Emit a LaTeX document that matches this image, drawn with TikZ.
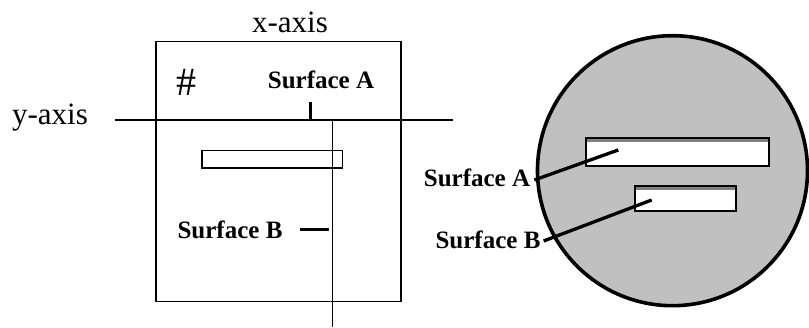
\documentclass[tikz,border=0pt]{standalone}
\usepackage{fontspec}
\setmainfont{Liberation Serif}
\begin{document}
\begin{tikzpicture}[x=1pt,y=-1pt,
  axislbl/.style={font=\fontsize{31}{31}\selectfont, inner sep=0pt},
  surflbl/.style={font=\fontsize{25}{25}\selectfont\bfseries, inner sep=0pt},
  thinln/.style={line width=1.6pt},
  thickln/.style={line width=3.3pt},
  slab/.style={draw=black, line width=2pt, fill=white}
]
\useasboundingbox (0,0) rectangle (809,328);
% left diagram
\draw[thinln] (156,41.7) rectangle (400.7,301.7);
\coordinate (yl) at (115,120);
\coordinate (yr) at (453,120);
\coordinate (vt) at (332.3,120);
\coordinate (vb) at (332.3,326.7);
\draw[thinln] (yl) -- (yr);
\draw[thinln] (vt) -- (vb);
\draw[thinln] (201.7,150.7) rectangle (342.3,168.3);
\node[axislbl] (xax) at (290,22) {x-axis};
\node[axislbl] (yax) at (50,118) {y-axis};
\node[font=\fontsize{40}{40}\selectfont, inner sep=0pt] (hash) at (186,82) {\#};
\node[surflbl] (sA) at (321,80) {Surface A};
\node[surflbl] (sB) at (230,230) {Surface B};
\coordinate (tA1) at (310.7,101.7);
\coordinate (tA2) at (310.7,120);
\draw[line width=3pt] (tA1) -- (tA2);
\coordinate (tB1) at (300,230);
\coordinate (tB2) at (329.3,230);
\draw[line width=3pt] (tB1) -- (tB2);
% right diagram
\draw[line width=3.6pt, fill={rgb,255:red,192;green,192;blue,192}] (672.5,170.7) circle (135);
\draw[slab] (586.2,137.8) rectangle (768.8,166.2);
\fill[gray] (587.2,138.8) rectangle (767.8,141.8);
\draw[slab] (634.5,186.5) rectangle (736.2,211.2);
\fill[gray] (635.5,187.5) rectangle (735.2,190.5);
\node[surflbl] (rA) at (477,178) {Surface A};
\node[surflbl] (rB) at (488,240) {Surface B};
\coordinate (pA) at (618.3,150);
\coordinate (pB) at (651.7,200);
\draw[thickln] ([xshift=4pt,yshift=-2pt]rA.east) -- (pA);
\draw[thickln] ([xshift=3pt,yshift=-1pt]rB.east) -- (pB);
\end{tikzpicture}
\end{document}
